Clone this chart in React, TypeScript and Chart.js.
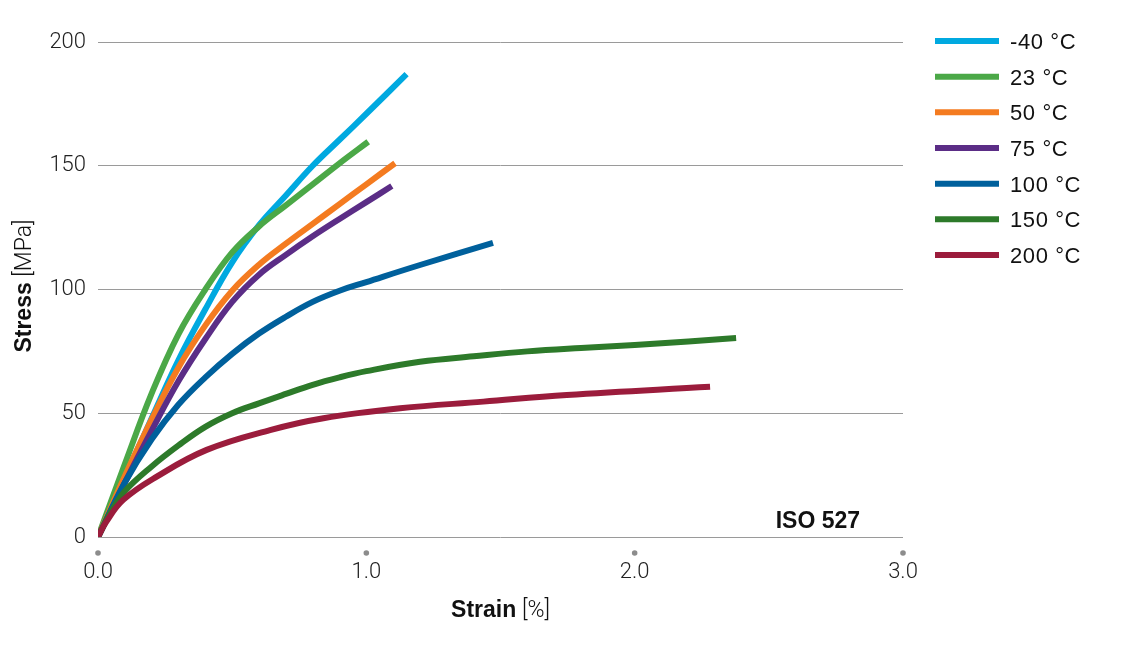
import React, { useEffect, useRef } from 'react';
import { Chart, registerables } from 'chart.js';

Chart.register(...registerables);

// ---- data ----
const seriesLabels = ['-40 °C', '23 °C', '50 °C', '75 °C', '100 °C', '150 °C', '200 °C'];
const seriesColors = ['#00a9e0', '#4ba847', '#f47b20', '#5b2d86', '#00609c', '#2d7a2a', '#9b1c3c'];

const strainM40 = [0, 0.1, 0.2, 0.3, 0.4, 0.5, 0.6, 0.7, 0.8, 0.9, 1.0, 1.15];
const stressM40 = [0, 24, 48, 71.5, 92, 111, 126, 138, 150, 160.5, 171, 187];
const strain23 = [0, 0.1, 0.2, 0.3, 0.4, 0.5, 0.6, 0.7, 0.8, 0.9, 1.007];
const stress23 = [0, 29.5, 58, 82, 100, 115, 125.5, 134, 142.5, 151, 159.7];
const strain50 = [0, 0.1, 0.2, 0.3, 0.4, 0.5, 0.6, 0.7, 0.8, 0.9, 1.0, 1.107];
const stress50 = [0, 24.5, 47.5, 68.5, 85.5, 99.5, 110, 118.5, 126.5, 134.5, 142.5, 151];
const strain75 = [0, 0.1, 0.2, 0.3, 0.4, 0.5, 0.6, 0.7, 0.8, 0.9, 1.0, 1.095];
const stress75 = [0, 22, 43, 63, 80, 95, 106, 114, 121.5, 128.5, 135.3, 141.8];
const strain100 = [0, 0.1, 0.2, 0.3, 0.4, 0.5, 0.6, 0.7, 0.8, 0.9, 1.0, 1.2, 1.472];
const stress100 = [0, 22, 39.5, 53.5, 64.5, 74, 82.2, 89, 95, 99.5, 103, 109.9, 118.8];
const strain150 = [0, 0.05, 0.1, 0.2, 0.3, 0.4, 0.5, 0.6, 0.7, 0.8, 0.9, 1.0, 1.2, 1.4, 1.6, 1.8, 2.0, 2.2, 2.378];
const stress150 = [0, 10.5, 18.5, 28.5, 37, 44.5, 50, 54, 57.8, 61.5, 64.5, 67, 70.8, 73, 75, 76.4, 77.6, 79, 80.4];
const strain200 = [0, 0.03, 0.094, 0.219, 0.405, 0.641, 0.84, 1.126, 1.436, 1.747, 2.281];
const stress200 = [0, 6, 15, 24.4, 35.2, 43.2, 48, 52, 54.7, 57.4, 60.7];

const seriesStrain = [strainM40, strain23, strain50, strain75, strain100, strain150, strain200];
const seriesStress = [stressM40, stress23, stress50, stress75, stress100, stress150, stress200];

const xTickValues = [0, 1, 2, 3];
const xTickLabels = ['0.0', '1.0', '2.0', '3.0'];
const yTickValues = [0, 50, 100, 150, 200];
const yTickLabels = ['0', '50', '100', '150', '200'];

const xTitleBold = 'Strain';
const xTitleRest = ' [%]';
const yTitleBold = 'Stress';
const yTitleRest = ' [MPa]';
const noteText = 'ISO 527';
const noteX = 2.84;
const noteY = 6.9;

const BOLD_FONT = 'bold 23px "Liberation Sans", Arial, sans-serif';
const LIGHT_FONT = '300 23px Roboto, "Liberation Sans", sans-serif';

function drawMixed(ctx: CanvasRenderingContext2D, bold: string, rest: string, cx: number, y: number) {
  ctx.font = BOLD_FONT;
  const w1 = ctx.measureText(bold).width;
  ctx.font = LIGHT_FONT;
  const w2 = ctx.measureText(rest).width;
  const start = cx - (w1 + w2) / 2;
  ctx.textAlign = 'left';
  ctx.textBaseline = 'alphabetic';
  ctx.fillStyle = '#111';
  ctx.font = BOLD_FONT;
  ctx.fillText(bold, start, y);
  ctx.font = LIGHT_FONT;
  ctx.fillText(rest, start + w1, y);
}

const decorPlugin = {
  id: 'decor',
  afterDraw(chart: any) {
    const { ctx, chartArea, scales } = chart;
    const xs = scales.x;
    const ys = scales.y;
    ctx.save();
    // tick dots
    ctx.fillStyle = '#8c8c8c';
    xs.ticks.forEach((t: any) => {
      const px = xs.getPixelForValue(t.value);
      ctx.beginPath();
      ctx.arc(px, chartArea.bottom + 16, 2.8, 0, Math.PI * 2);
      ctx.fill();
    });
    // x title
    drawMixed(ctx, xTitleBold, xTitleRest, (chartArea.left + chartArea.right) / 2, 609);
    // y title
    ctx.save();
    ctx.translate(23, 278);
    ctx.rotate(-Math.PI / 2);
    drawMixed(ctx, yTitleBold, yTitleRest, 0, 0);
    ctx.restore();
    // note
    ctx.font = 'bold 23px "Liberation Sans", Arial, sans-serif';
    ctx.fillStyle = '#111';
    ctx.textAlign = 'right';
    ctx.textBaseline = 'alphabetic';
    ctx.fillText(noteText, xs.getPixelForValue(noteX), ys.getPixelForValue(noteY) + 8);
    // legend
    const lx = chartArea.right + 32;
    chart.data.datasets.forEach((ds: any, i: number) => {
      const cy = 33 + i * 35.67;
      ctx.strokeStyle = ds.borderColor;
      ctx.lineWidth = 6;
      ctx.lineCap = 'butt';
      ctx.beginPath();
      ctx.moveTo(lx, cy);
      ctx.lineTo(lx + 64, cy);
      ctx.stroke();
      ctx.fillStyle = '#111';
      ctx.font = '22px "Liberation Sans", Arial, sans-serif';
      (ctx as any).letterSpacing = '0.6px';
      ctx.textAlign = 'left';
      ctx.textBaseline = 'alphabetic';
      ctx.fillText(ds.label, lx + 75, cy + 8);
      (ctx as any).letterSpacing = '0px';
    });
    ctx.restore();
  },
};

export default function App() {
  const ref = useRef<HTMLCanvasElement | null>(null);
  useEffect(() => {
    if (!ref.current) return;
    const datasets = seriesLabels.map((label, i) => ({
      label,
      data: seriesStrain[i].map((x, k) => ({ x, y: seriesStress[i][k] })),
      borderColor: seriesColors[i],
      backgroundColor: seriesColors[i],
      borderWidth: 6,
      pointRadius: 0,
      pointHoverRadius: 0,
      fill: false,
      tension: 0.4,
      order: seriesLabels.length - 1 - i,
    }));
    const tickFont = { family: 'Roboto, "Liberation Sans", sans-serif', size: 22, weight: '300' as any };
    const chart = new Chart(ref.current, {
      type: 'line',
      data: { datasets },
      options: {
        animation: false,
        responsive: true,
        maintainAspectRatio: false,
        layout: { padding: { top: 34, right: 235, bottom: 0, left: 0 } },
        plugins: { legend: { display: false }, tooltip: { enabled: false } },
        scales: {
          x: {
            type: 'linear',
            min: 0,
            max: 3,
            afterBuildTicks: (s: any) => {
              s.ticks = xTickValues.map((v) => ({ value: v }));
            },
            afterFit: (s: any) => {
              s.height = 118;
            },
            ticks: {
              callback: (_v: any, i: number) => xTickLabels[i],
              font: tickFont,
              color: '#222',
              padding: 22,
              maxRotation: 0,
            },
            grid: { display: false, drawTicks: false },
            border: { display: false },
          },
          y: {
            type: 'linear',
            min: 0,
            max: 200,
            afterBuildTicks: (s: any) => {
              s.ticks = yTickValues.map((v) => ({ value: v }));
            },
            afterFit: (s: any) => {
              s.width = 90;
            },
            ticks: {
              callback: (_v: any, i: number) => yTickLabels[i],
              font: tickFont,
              color: '#222',
              padding: 12,
            },
            grid: { color: '#9a9a9a', lineWidth: 1, drawTicks: false },
            border: { display: false },
          },
        },
      },
      plugins: [decorPlugin],
    });
    return () => chart.destroy();
  }, []);
  return (
    <div style={{ width: 1130, height: 647, position: 'relative' }}>
      <canvas ref={ref} />
    </div>
  );
}
